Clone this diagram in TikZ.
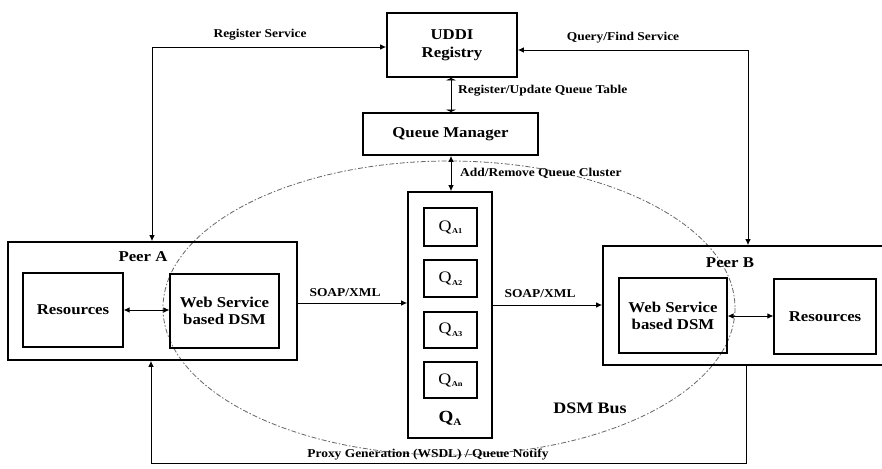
\documentclass[tikz,border=0pt]{standalone}
\usepackage{fontspec}
\setmainfont[FakeStretch=1.12]{Liberation Serif}
\usetikzlibrary{arrows.meta,calc}

\newcommand{\qsub}[1]{Q\kern0.5pt\raisebox{-0.35ex}{\fontsize{7.5}{8}\selectfont\bfseries #1}}

\begin{document}
\begin{tikzpicture}[x=1pt,y=-1pt,
  outerbox/.style={draw, line width=1.7pt, inner sep=0pt, align=center,
    font=\bfseries\fontsize{15}{17}\selectfont},
  innerbox/.style={draw, line width=1.1pt, inner sep=0pt, align=center,
    font=\bfseries\fontsize{15}{17}\selectfont},
  qbox/.style={draw, line width=1.1pt, inner sep=0pt,
    minimum width=53pt, font=\fontsize{16}{18}\selectfont},
  title/.style={font=\bfseries\fontsize{15}{17}\selectfont, inner sep=0pt},
  lbl/.style={font=\bfseries\fontsize{12}{13}\selectfont, inner sep=0pt},
  ahd/.tip={Latex[length=6pt,width=5.5pt]},
  fhd/.tip={Latex[length=2.5pt,width=11pt]},
  conn/.style={line width=0.9pt},
  bus/.style={line width=0.8pt, draw=black!60,
    dash pattern=on 5pt off 2pt on 1.5pt off 2pt}
]
\clip (0,0) rectangle (882,468);
\fill[white] (0,0) rectangle (882,468);

% DSM bus boundary
\draw[bus] (449,308) ellipse [x radius=286, y radius=147];

% registry and queue manager
\node[outerbox, minimum width=130pt, minimum height=64pt] (uddi) at (452,45)
  {UDDI\\[1pt]Registry};
\node[outerbox, minimum width=175pt, minimum height=42pt] (qm) at (450.5,134)
  {Queue Manager};

% queue cluster
\node[outerbox, minimum width=84pt, minimum height=246pt] (qa) at (450,315) {};
\node[qbox, minimum height=38pt] (q1) at (450.5,227) {\qsub{A1}};
\node[qbox, minimum height=37pt] (q2) at (450.5,278.5) {\qsub{A2}};
\node[qbox, minimum height=36pt] (q3) at (450.5,330) {\qsub{A3}};
\node[qbox, minimum height=36pt] (q4) at (450.5,380) {\qsub{An}};
\node[title, font=\bfseries\fontsize{17}{19}\selectfont] (qalbl) at (450,418)
  {Q\raisebox{-0.4ex}{\fontsize{10}{11}\selectfont A}};

% peer A
\node[outerbox, minimum width=289pt, minimum height=118pt] (peerA) at (152.5,301) {};
\node[title] (peerAlbl) at (143,257) {Peer A};
\node[innerbox, minimum width=100pt, minimum height=74pt] (resA) at (73,310) {Resources};
\node[innerbox, minimum width=109pt, minimum height=74pt] (wsA) at (224.5,311)
  {Web Service\\based DSM};

% peer B (runs past the right edge)
\node[outerbox, minimum width=292pt, minimum height=119pt] (peerB) at (749,305.5) {};
\node[title] (peerBlbl) at (730,263) {Peer B};
\node[innerbox, minimum width=108pt, minimum height=75pt] (wsB) at (673,315.5)
  {Web Service\\based DSM};
\node[innerbox, minimum width=102pt, minimum height=75pt] (resB) at (825,316.5) {Resources};

% corner points of the routed connectors
\coordinate (rsTurn) at (152,47);
\coordinate (qfTurn) at (748,50);
\coordinate (pnB) at (746,463);
\coordinate (pnA) at (151,463);

% connectors
\draw[conn, ahd-ahd] (peerA.north -| rsTurn) -- (rsTurn) -- (uddi.west |- rsTurn);
\draw[conn, ahd-ahd] (uddi.east |- qfTurn) -- (qfTurn) -- (peerB.north -| qfTurn);
\draw[conn, fhd-fhd] (uddi.south -| 451,0) -- (qm.north -| 451,0);
\draw[conn, ahd-ahd] (qm.south -| 451,0) -- (qa.north -| 451,0);
\draw[conn, -ahd] (peerA.east |- 0,303) -- (qa.west |- 0,303);
\draw[conn, -ahd] (qa.east |- 0,305) -- (peerB.west |- 0,305);
\draw[conn, ahd-ahd] (resA.east |- 0,310) -- (wsA.west |- 0,310);
\draw[conn, ahd-ahd] (wsB.east |- 0,316) -- (resB.west |- 0,316);
\draw[conn, -ahd] (peerB.south -| pnB) -- (pnB) -- (pnA) -- (peerA.south -| pnA);

% connector labels
\node[lbl] (lRS) at (260,35) {Register Service};
\node[lbl] (lQF) at (623,38) {Query/Find Service};
\node[lbl, anchor=west] (lRU) at (458,91) {Register/Update Queue Table};
\node[lbl, anchor=west] (lAR) at (460,173) {Add/Remove Queue Cluster};
\node[lbl] (lS1) at (345,293) {SOAP/XML};
\node[lbl] (lS2) at (540,294) {SOAP/XML};
\node[lbl] (lPG) at (428,455) {Proxy Generation (WSDL) / Queue Notify};
\node[title, font=\bfseries\fontsize{16}{18}\selectfont] (lBus) at (590,408) {DSM Bus};
\end{tikzpicture}
\end{document}
